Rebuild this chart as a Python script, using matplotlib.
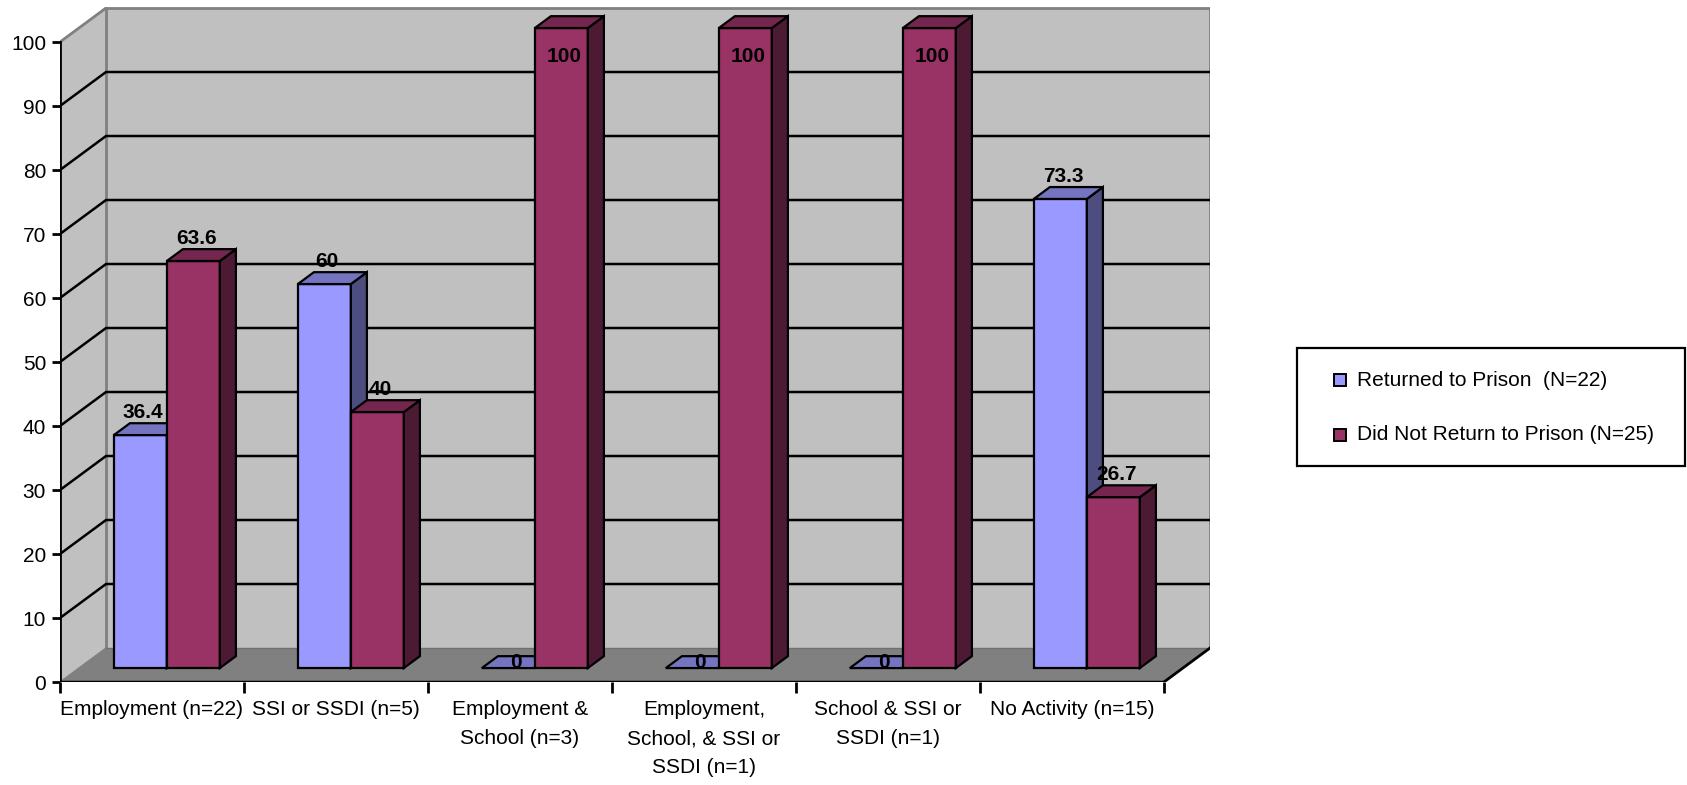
import numpy as np
import matplotlib.pyplot as plt
from matplotlib.patches import Polygon, Rectangle

plt.rcParams['font.family'] = ['Liberation Sans', 'DejaVu Sans']

categories = ['Employment (n=22)', 'SSI or SSDI (n=5)', 'Employment &\nSchool (n=3)',
              'Employment,\nSchool, & SSI or\nSSDI (n=1)', 'School & SSI or\nSSDI (n=1)',
              'No Activity (n=15)']
returned = [36.4, 60, 0, 0, 0, 73.3]
not_returned = [63.6, 40, 100, 100, 100, 26.7]
series_names = ['Returned to Prison  (N=22)', 'Did Not Return to Prison (N=25)']
yticks = list(range(0, 101, 10))

# face colours: front, top, side
blue = ('#9999FF', '#7474C0', '#4D4D80')
wine = ('#993366', '#74264E', '#4D1A33')

W, H = 1687, 785
fig = plt.figure(figsize=(W / 100, H / 100), dpi=100)

# oblique 3D depth, in data units
DX, DY = 0.25, 5.31
F0, F1 = 0.41, 0.76
ncat = len(categories)

ax = fig.add_axes([60 / W, (H - 682) / H, 1150 / W, 675 / H])
ax.set_xlim(0, 1150 / 184)
ax.set_ylim(0, 675 / 6.4)
for s in ax.spines.values():
    s.set_visible(False)

wall = '#C0C0C0'
floor = '#808080'
edge = '#808080'

# walls and floor
ax.add_patch(Polygon([(0, 0), (DX, DY), (DX, 100 + DY), (0, 100)], closed=True,
                     facecolor=wall, edgecolor='none', zorder=0))
ax.add_patch(Polygon([(DX, DY), (ncat + DX, DY), (ncat + DX, 100 + DY), (DX, 100 + DY)],
                     closed=True, facecolor=wall, edgecolor='none', zorder=0))
ax.add_patch(Polygon([(0, 0), (ncat, 0), (ncat + DX, DY), (DX, DY)], closed=True,
                     facecolor=floor, edgecolor='none', zorder=0))

# wall outlines
ax.plot([DX, DX, ncat + DX, ncat + DX], [DY, 100 + DY, 100 + DY, DY], color=edge, lw=2, zorder=1)
ax.plot([0, DX], [100, 100 + DY], color=edge, lw=2, zorder=1)
ax.plot([0, DX], [0, DY], color=edge, lw=1, zorder=1)
ax.plot([DX, ncat + DX], [DY, DY], color='#707070', lw=1, zorder=1)
ax.plot([ncat, ncat + DX], [0, DY], color='black', lw=2, zorder=1)

# gridlines on both walls
for v in yticks[1:-1]:
    ax.plot([0, DX, ncat + DX], [v, v + DY, v + DY], color='black', lw=1.8, zorder=1)

# axes lines
ax.plot([0, 0], [0, 100], color='black', lw=2, zorder=5, solid_capstyle='projecting')
ax.plot([0, ncat], [0, 0], color='black', lw=2.5, zorder=5)

ax.set_yticks(yticks)
ax.set_yticklabels([str(v) for v in yticks])
ax.tick_params(axis='y', length=6, width=2, pad=4, labelsize=15, colors='black')
ax.set_xticks(range(ncat + 1))
ax.set_xticklabels([''] * (ncat + 1))
ax.tick_params(axis='x', which='major', length=8, width=2)
ax.set_xticks(np.arange(ncat) + 0.5, minor=True)
ax.set_xticklabels(categories, minor=True, fontsize=15, linespacing=1.68, va='top')
ax.tick_params(axis='x', which='minor', length=0, pad=13)


def bar3d(x0, width, value, cols):
    y0 = F0 * DY
    x0 = x0 + F0 * DX
    x1 = x0 + width
    top = y0 + value
    ddx, ddy = (F1 - F0) * DX, (F1 - F0) * DY
    kw = dict(closed=True, edgecolor='black', lw=1.6, joinstyle='miter', zorder=3)
    if value > 0:
        ax.add_patch(Polygon([(x0, y0), (x1, y0), (x1, top), (x0, top)], facecolor=cols[0], **kw))
    ax.add_patch(Polygon([(x1, y0), (x1 + ddx, y0 + ddy), (x1 + ddx, top + ddy), (x1, top)],
                         facecolor=cols[2], **kw))
    ax.add_patch(Polygon([(x0, top), (x1, top), (x1 + ddx, top + ddy), (x0 + ddx, top + ddy)],
                         facecolor=cols[1], **kw))
    # value label
    if value == 0:
        cx = (x0 + x1) / 2 + ddx / 2
        ly = top + ddy * 0.5
    else:
        cx = (x0 + x1) / 2 + 0.015
        ly = min(top + ddy + 1.7, 97.7)
    ax.text(cx, ly, f'{value:g}', ha='center', va='center', fontsize=15,
            fontweight='bold', zorder=6, clip_on=False)


bw = 0.288
for i in range(ncat):
    left = i + 0.19
    bar3d(left, bw, returned[i], blue)
    bar3d(left + bw, bw, not_returned[i], wine)

# legend box
lx0, ly0, lx1, ly1 = 1297, 348, 1685, 466
fig.patches.append(Rectangle((lx0 / W, 1 - ly1 / H), (lx1 - lx0) / W, (ly1 - ly0) / H,
                             transform=fig.transFigure, facecolor='white',
                             edgecolor='black', lw=1.6))
for name, cols, yc in zip(series_names, (blue, wine), (380, 435)):
    fig.patches.append(Rectangle((1334 / W, 1 - (yc + 6) / H), 12 / W, 12 / H,
                                 transform=fig.transFigure, facecolor=cols[0],
                                 edgecolor='black', lw=1.4))
    fig.text(1357 / W, 1 - yc / H, name, fontsize=15, va='center', ha='left')

fig.savefig('out.png', dpi=100)
